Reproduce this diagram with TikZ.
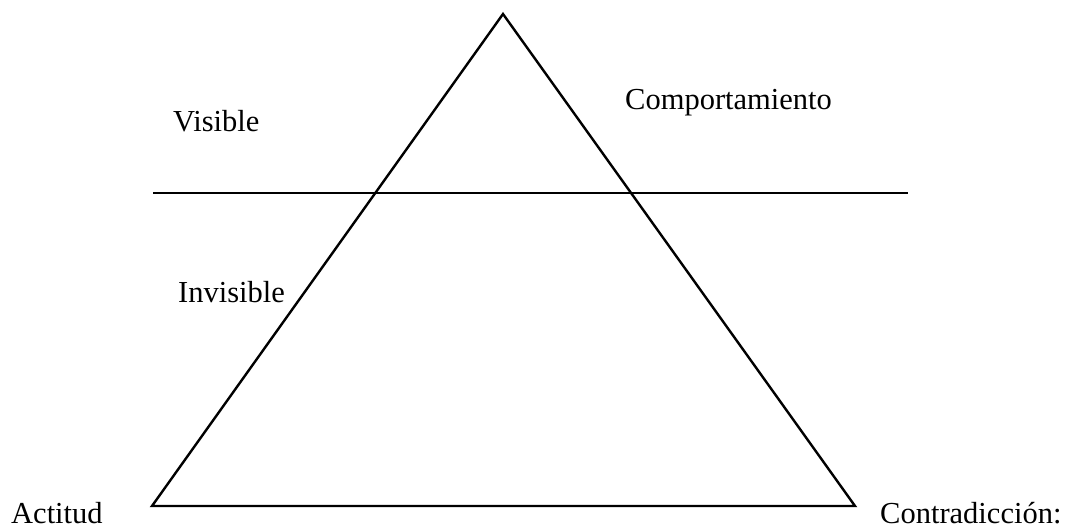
\documentclass[tikz,border=0pt]{standalone}
\usepackage{fontspec}
\setmainfont{Liberation Serif}
\begin{document}
\begin{tikzpicture}[x=1pt,y=1pt,
  lbl/.style={anchor=base west,inner sep=0pt,font=\fontsize{30.5}{36}\selectfont},
  edge/.style={line width=2.4pt,line join=miter}]
\useasboundingbox (0,0) rectangle (1070,530);
\coordinate (apex) at (503,516);
\coordinate (bl) at (152,24);
\coordinate (br) at (855,24);
\coordinate (hl) at (153,337);
\coordinate (hr) at (908,337);
\draw[edge] (apex) -- (bl) -- (br) -- cycle;
\draw[edge] (hl) -- (hr);
\node[lbl] (visible) at (173,398) {Visible};
\node[lbl] (comp) at (625,420) {Comportamiento};
\node[lbl] (invisible) at (178,227) {Invisible};
\node[lbl] (actitud) at (11,7) {Actitud};
\node[lbl] (contra) at (880,7) {Contradicción:};
\end{tikzpicture}
\end{document}
